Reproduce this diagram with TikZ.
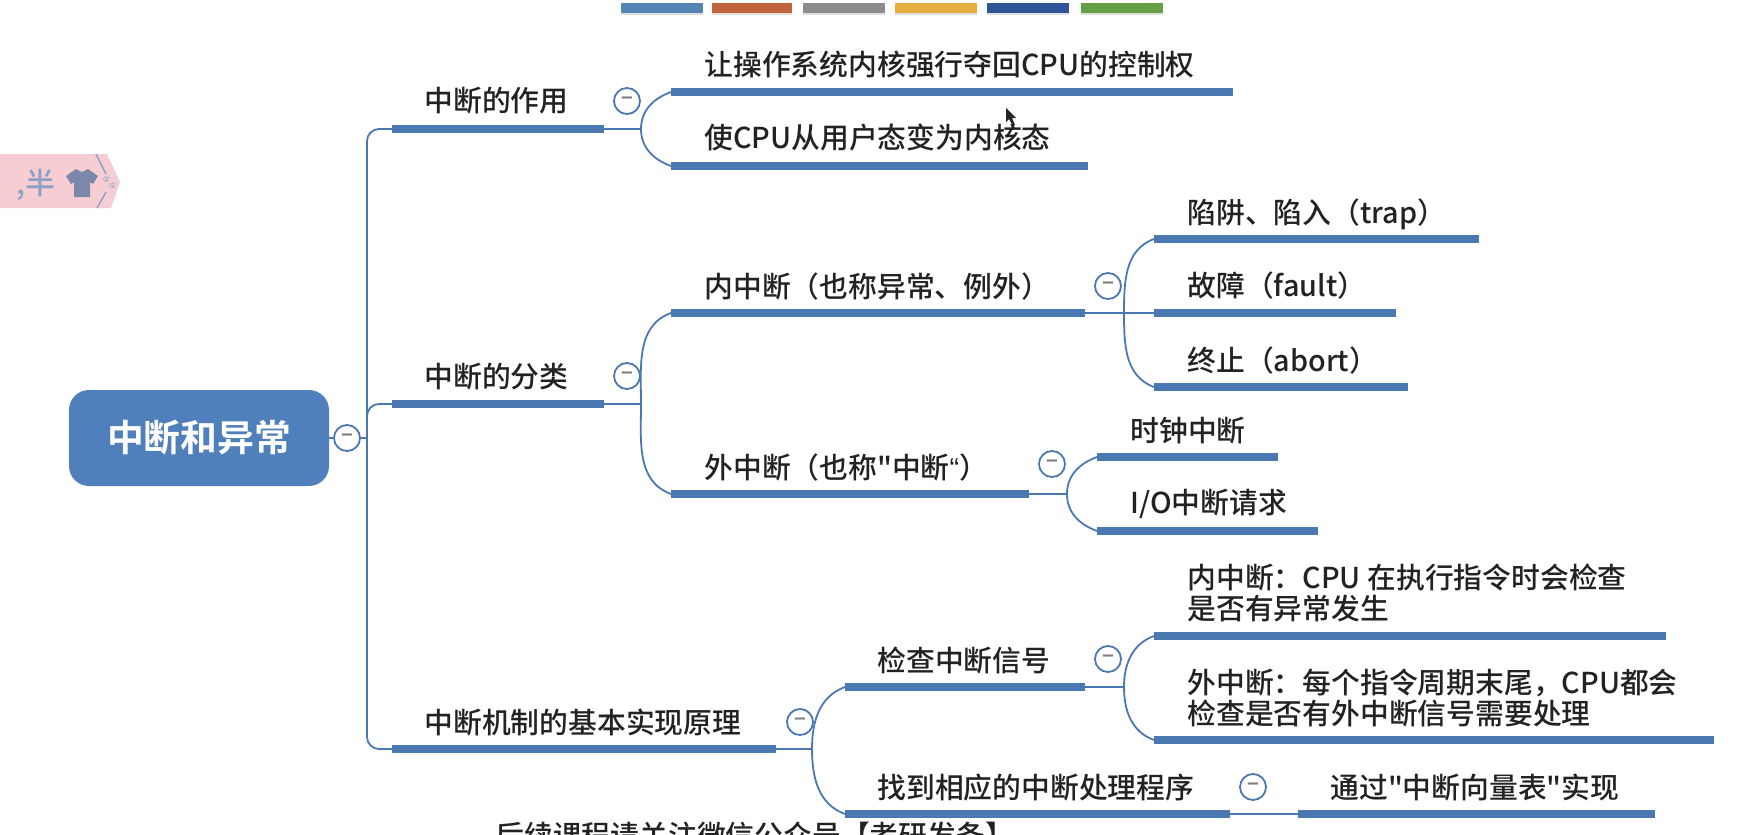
\documentclass[tikz,border=0pt]{standalone}
\usepackage{fontspec}
\setmainfont{Noto Sans CJK SC}[UprightFont=* Medium,BoldFont=* Bold,Ligatures=TeXOff]
\newfontfamily\pawfont{Noto Emoji}
\newfontfamily\quotefont{Liberation Sans}
\usepackage{tikz}
\definecolor{branch}{HTML}{4C78B2}
\definecolor{rootblue}{HTML}{5080BC}
\definecolor{tagpink}{HTML}{F6CDD2}
\definecolor{tagblue}{HTML}{8FA0C8}
\definecolor{inktext}{HTML}{222222}
\tikzset{label/.style={anchor=west,inner sep=0pt,xshift=-0.5pt,text=inktext,align=left,font=\fontsize{14.4}{15.5}\selectfont}}
\tikzset{foldmark/.style={draw=branch,line width=0.9pt,fill=white,circle,inner sep=0pt,minimum size=13pt,text=gray,font=\fontsize{10}{10}\selectfont\bfseries}}
\tikzset{barline/.style={draw=branch,line width=4pt}}
\tikzset{forkline/.style={draw=branch,line width=0.9pt}}
\tikzset{forkup/.style={out=90,in=200}}
\tikzset{forkdown/.style={out=-90,in=160}}
\tikzset{palette/.style={inner sep=0pt,minimum height=5pt,minimum width=41pt}}

\begin{document}
\begin{tikzpicture}[x=0.5pt,y=-0.5pt]
		\useasboundingbox (0,0) rectangle (1757,835);
		\clip (0,0) rectangle (1757,835);

		% colour strip on top
		\node[palette,fill=black!12](p1s) at (662,10){};
		\node[palette,fill=black!12,minimum width=40pt](p2s) at (752,10){};
		\node[palette,fill=black!12](p3s) at (844,10){};
		\node[palette,fill=black!12](p4s) at (936,10){};
		\node[palette,fill=black!12](p5s) at (1028,10){};
		\node[palette,fill=black!12](p6s) at (1122,10){};
		\node[palette,fill={rgb,255:red,85;green,133;blue,181}](p1) at (662,8){};
		\node[palette,fill={rgb,255:red,192;green,98;blue,58},minimum width=40pt](p2) at (752,8){};
		\node[palette,fill={rgb,255:red,140;green,140;blue,140}](p3) at (844,8){};
		\node[palette,fill={rgb,255:red,229;green,174;blue,62}](p4) at (936,8){};
		\node[palette,fill={rgb,255:red,47;green,85;blue,151}](p5) at (1028,8){};
		\node[palette,fill={rgb,255:red,101;green,159;blue,69}](p6) at (1122,8){};

		% pink tag on the left
		\fill[tagpink] (0,154) -- (107,154) -- (120,182) -- (111,208) -- (0,208) -- cycle;
		\draw[tagblue,line width=0.7pt] (96,154) -- (106,174);
		\draw[tagblue,line width=0.7pt] (106,192) -- (97,208);
		\node[inner sep=0pt,text=tagblue,font=\fontsize{15}{15}\selectfont](tag) at (36,185){,半};
		\fill[tagblue!85!black] (66,176) -- (76,169) -- (82,172) -- (88,169) -- (98,176) -- (93,184) -- (90,182) -- (90,197) -- (74,197) -- (74,182) -- (71,184) -- cycle;
		\node[inner sep=0pt,text=tagblue!80,font=\pawfont\fontsize{7}{7}\selectfont](paw) at (109,183){🐾};

		\node[fill=rootblue,rounded corners=10pt,minimum width=130pt,minimum height=48pt,inner sep=0pt,text=white,font=\fontsize{18.4}{18.4}\selectfont\bfseries](root) at (199,438){中断和异常};

		\coordinate(tr1) at (367,129);
		\coordinate(trm) at (367,438);
		\coordinate(tr3) at (367,749);

		\coordinate(a1) at (392,129);
		\coordinate(a1e) at (604,129);
		\coordinate(a2) at (392,404);
		\coordinate(a2e) at (604,404);
		\coordinate(a3) at (392,749);
		\coordinate(a3e) at (776,749);

		\coordinate(f1) at (641,129);
		\coordinate(f2) at (641,404);
		\coordinate(f3) at (812,749);

		\coordinate(b1) at (671,92);
		\coordinate(b1e) at (1233,92);
		\coordinate(b2) at (671,166);
		\coordinate(b2e) at (1088,166);
		\coordinate(b3) at (671,313);
		\coordinate(b3e) at (1085,313);
		\coordinate(b4) at (671,494);
		\coordinate(b4e) at (1029,494);
		\coordinate(b5) at (845,687);
		\coordinate(b5e) at (1085,687);
		\coordinate(b6) at (845,814);
		\coordinate(b6e) at (1230,814);

		\coordinate(f4) at (1124,313);
		\coordinate(f5) at (1067,494);
		\coordinate(f6) at (1124,687);

		\coordinate(c1) at (1154,239);
		\coordinate(c1e) at (1479,239);
		\coordinate(c2) at (1154,313);
		\coordinate(c2e) at (1396,313);
		\coordinate(c3) at (1154,387);
		\coordinate(c3e) at (1408,387);
		\coordinate(c4) at (1097,457);
		\coordinate(c4e) at (1278,457);
		\coordinate(c5) at (1097,531);
		\coordinate(c5e) at (1318,531);
		\coordinate(c6) at (1154,636);
		\coordinate(c6e) at (1666,636);
		\coordinate(c7) at (1154,740);
		\coordinate(c7e) at (1714,740);
		\coordinate(c8) at (1298,814);
		\coordinate(c8e) at (1655,814);

		\draw[forkline] (root.east) -- (trm);
		\draw[forkline,rounded corners=6pt] (a1) -- (tr1) -- (tr3) -- (a3);
		\draw[forkline,rounded corners=6pt] (trm) |- (a2);

		\draw[forkline] (a1e) -- (f1);
		\draw[forkline] (f1) to[forkup] (b1);
		\draw[forkline] (f1) to[forkdown] (b2);

		\draw[forkline] (a2e) -- (f2);
		\draw[forkline] (f2) to[forkup] (b3);
		\draw[forkline] (f2) to[forkdown] (b4);

		\draw[forkline] (a3e) -- (f3);
		\draw[forkline] (f3) to[forkup] (b5);
		\draw[forkline] (f3) to[forkdown] (b6);

		\draw[forkline] (b3e) -- (c2);
		\draw[forkline] (f4) to[forkup] (c1);
		\draw[forkline] (f4) to[forkdown] (c3);

		\draw[forkline] (b4e) -- (f5);
		\draw[forkline] (f5) to[forkup] (c4);
		\draw[forkline] (f5) to[forkdown] (c5);

		\draw[forkline] (b5e) -- (f6);
		\draw[forkline] (f6) to[forkup] (c6);
		\draw[forkline] (f6) to[forkdown] (c7);

		\draw[forkline] (b6e) -- (c8);

		\draw[barline] (a1) -- (a1e);
		\draw[barline] (a2) -- (a2e);
		\draw[barline] (a3) -- (a3e);
		\draw[barline] (b1) -- (b1e);
		\draw[barline] (b2) -- (b2e);
		\draw[barline] (b3) -- (b3e);
		\draw[barline] (b4) -- (b4e);
		\draw[barline] (b5) -- (b5e);
		\draw[barline] (b6) -- (b6e);
		\draw[barline] (c1) -- (c1e);
		\draw[barline] (c2) -- (c2e);
		\draw[barline] (c3) -- (c3e);
		\draw[barline] (c4) -- (c4e);
		\draw[barline] (c5) -- (c5e);
		\draw[barline] (c6) -- (c6e);
		\draw[barline] (c7) -- (c7e);
		\draw[barline] (c8) -- (c8e);

		\node[foldmark](m0) at (347,438){−};
		\node[foldmark](m1) at (627,101){−};
		\node[foldmark](m2) at (627,376){−};
		\node[foldmark](m3) at (800,722){−};
		\node[foldmark](m4) at (1108,286){−};
		\node[foldmark](m5) at (1052,464){−};
		\node[foldmark](m6) at (1108,659){−};
		\node[foldmark](m7) at (1253,787){−};

		\node[label](ta1) at (425,101){中断的作用};
		\node[label](ta2) at (425,377){中断的分类};
		\node[label](ta3) at (425,723){中断机制的基本实现原理};

		\node[label](tb1) at (705,65){让操作系统内核强行夺回CPU的控制权};
		\node[label](tb2) at (705,138){使CPU从用户态变为内核态};
		\node[label](tb3) at (705,287){内中断（也称异常、例外）};
		\node[label](tb4) at (705,468){外中断（也称"中断{\quotefont“}）};
		\node[label](tb5) at (878,661){检查中断信号};
		\node[label](tb6) at (878,788){找到相应的中断处理程序};

		\node[label](tc1) at (1188,214){陷阱、陷入（trap）};
		\node[label](tc2) at (1188,286){故障（fault）};
		\node[label](tc3) at (1188,361){终止（abort）};
		\node[label](tc4) at (1131,431){时钟中断};
		\node[label](tc5) at (1131,504){I/O中断请求};
		\node[label](tc6) at (1188,593){内中断：CPU 在执行指令时会检查\\是否有异常发生};
		\node[label](tc7) at (1188,698){外中断：每个指令周期末尾，CPU都会\\检查是否有外中断信号需要处理};
		\node[label](tc8) at (1331,788){通过"中断向量表"实现};

		\node[label](caption) at (496,836){后续课程请关注微信公众号【考研发条】};

		% mouse pointer
		\fill[black!85] (1006,108) -- (1006,122) -- (1009,119) -- (1013,126) -- (1015,125) -- (1012,118) -- (1016,118) -- cycle;
	\end{tikzpicture}
\end{document}
